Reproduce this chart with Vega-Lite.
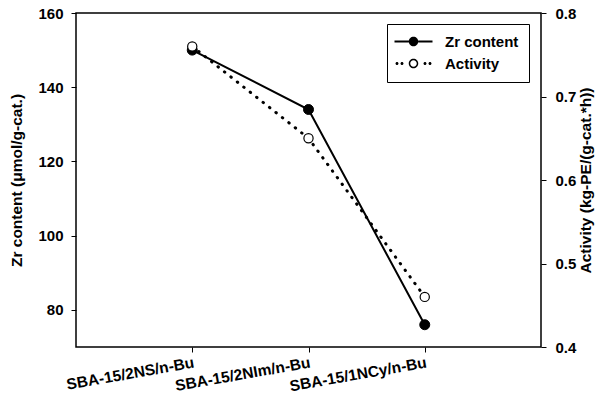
{
  "$schema": "https://vega.github.io/schema/vega-lite/v6.json",
  "width": 465,
  "height": 334,
  "autosize": "none",
  "padding": {"left": 76, "top": 13, "right": 67, "bottom": 47},
  "background": "white",
  "config": {
    "view": {"stroke": "black", "strokeWidth": 1.5},
    "font": "Liberation Sans",
    "axis": {
      "grid": false,
      "domain": false,
      "tickColor": "black",
      "tickSize": 5,
      "tickWidth": 1,
      "labelFont": "Liberation Sans",
      "labelFontWeight": "bold",
      "labelFontSize": 15,
      "labelColor": "black",
      "titleFont": "Liberation Sans",
      "titleFontWeight": "bold",
      "titleFontSize": 15.5,
      "titleColor": "black"
    },
    "legend": {
      "title": null,
      "orient": "none",
      "legendX": 311,
      "legendY": 11,
      "strokeColor": "black",
      "fillColor": "white",
      "padding": 10,
      "symbolSize": 100,
      "symbolOffset": 9,
      "labelOffset": 24,
      "rowPadding": 5,
      "symbolOpacity": 1,
      "symbolFillColor": "black",
      "labelFont": "Liberation Sans",
      "labelFontWeight": "bold",
      "labelFontSize": 15,
      "labelColor": "black"
    }
  },
  "data": {
    "values": [
      {"catalyst": "SBA-15/2NS/n-Bu", "series": "Zr content", "value": 150},
      {"catalyst": "SBA-15/2NIm/n-Bu", "series": "Zr content", "value": 134},
      {"catalyst": "SBA-15/1NCy/n-Bu", "series": "Zr content", "value": 76},
      {"catalyst": "SBA-15/2NS/n-Bu", "series": "Activity", "value": 0.76},
      {"catalyst": "SBA-15/2NIm/n-Bu", "series": "Activity", "value": 0.65},
      {"catalyst": "SBA-15/1NCy/n-Bu", "series": "Activity", "value": 0.46}
    ]
  },
  "encoding": {
    "x": {
      "field": "catalyst",
      "type": "nominal",
      "sort": null,
      "scale": {"type": "point", "padding": 1},
      "axis": {
        "title": null,
        "labelAngle": -10,
        "labelAlign": "right",
        "labelBaseline": "top",
        "labelFontSize": 15.5,
        "labelPadding": 3
      }
    }
  },
  "layer": [
    {
      "transform": [{"filter": "datum.series === 'Zr content'"}],
      "encoding": {
        "y": {
          "field": "value",
          "type": "quantitative",
          "scale": {"domain": [70, 160], "nice": false, "zero": false},
          "axis": {
            "orient": "left",
            "values": [80, 100, 120, 140, 160],
            "title": "Zr content (μmol/g-cat.)",
            "labelPadding": 8,
            "titlePadding": 13
          }
        }
      },
      "layer": [
        {"mark": {"type": "line", "color": "black", "strokeWidth": 2}},
        {"mark": {"type": "point", "filled": true, "fill": "black", "size": 100, "stroke": "black", "strokeWidth": 1, "opacity": 1}},
        {
          "mark": {"type": "point", "filled": true, "fill": "black", "opacity": 0, "size": 100},
          "encoding": {
            "shape": {
              "field": "series",
              "type": "nominal",
              "scale": {
                "domain": ["Zr content", "Activity"],
                "range": [
                  "M-3.8,-0.2H-0.95V0.2H-3.8ZM0.95,-0.2H3.8V0.2H0.95ZM-0.95,0A0.95,0.95,0,1,0,0.95,0A0.95,0.95,0,1,0,-0.95,0Z",
                  "M-3.6,0A0.3,0.3,0,1,0,-3.0,0A0.3,0.3,0,1,0,-3.6,0ZM-2.6,0A0.3,0.3,0,1,0,-2.0,0A0.3,0.3,0,1,0,-2.6,0ZM2.0,0A0.3,0.3,0,1,0,2.6,0A0.3,0.3,0,1,0,2.0,0ZM3.0,0A0.3,0.3,0,1,0,3.6,0A0.3,0.3,0,1,0,3.0,0ZM-0.95,0A0.95,0.95,0,1,0,0.95,0A0.95,0.95,0,1,0,-0.95,0ZM-0.65,0A0.65,0.65,0,1,1,0.65,0A0.65,0.65,0,1,1,-0.65,0Z"
                ]
              }
            }
          }
        }
      ]
    },
    {
      "transform": [{"filter": "datum.series === 'Activity'"}],
      "encoding": {
        "y": {
          "field": "value",
          "type": "quantitative",
          "scale": {"domain": [0.4, 0.8], "nice": false, "zero": false},
          "axis": {
            "orient": "right",
            "values": [0.4, 0.5, 0.6, 0.7, 0.8],
            "format": ".1f",
            "title": "Activity (kg-PE/(g-cat.*h))",
            "titleAngle": 270,
            "titleBaseline": "top",
            "labelPadding": 9,
            "titlePadding": 3
          }
        }
      },
      "layer": [
        {"mark": {"type": "line", "color": "black", "strokeWidth": 3, "strokeCap": "round", "strokeDash": [0.5, 7.7]}},
        {"mark": {"type": "point", "filled": true, "fill": "white", "size": 85, "stroke": "black", "strokeWidth": 1.2, "opacity": 1}}
      ]
    }
  ],
  "resolve": {"scale": {"y": "independent"}}
}
